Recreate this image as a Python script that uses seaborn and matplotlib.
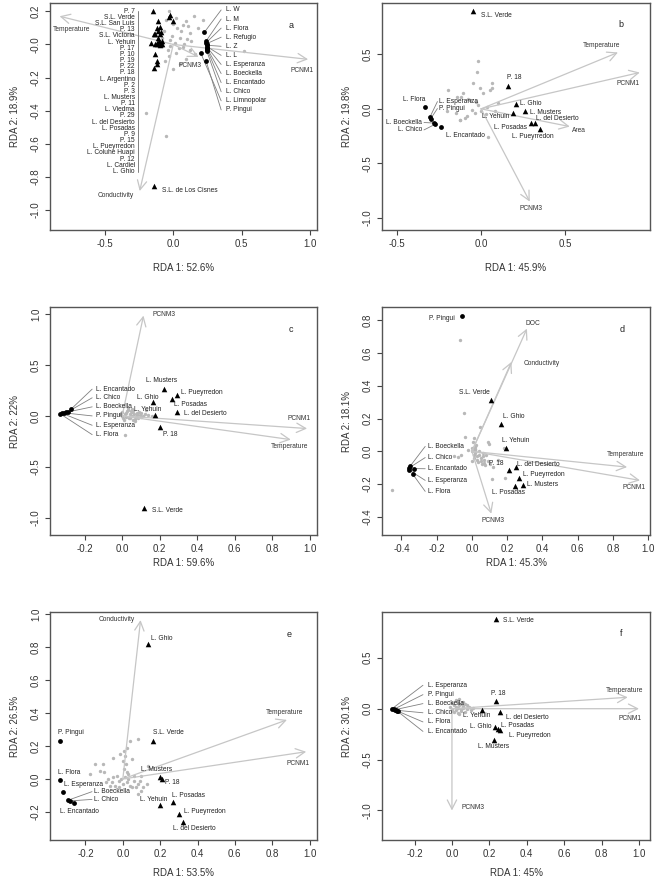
import numpy as np
import pandas as pd
import matplotlib
matplotlib.use("Agg")
import matplotlib.pyplot as plt
import seaborn as sns
from matplotlib.ticker import FormatStrFormatter

sns.set_theme(style="ticks")
plt.rcParams['font.family'] = ['Liberation Sans', 'DejaVu Sans']
plt.rcParams['axes.unicode_minus'] = False

# ---------------- panel a ----------------
a_sp = [(0.0, 0.126), (0.09, 0.14), (0.125, 0.066), (0.05, 0.04), (-0.02, 0.024), (0.015, 0.006),
        (0.07, -0.018), (0.125, -0.036), (-0.04, -0.036), (-0.07, 0.084), (0.15, 0.17), (-0.05, 0.15),
        (0.03, 0.1), (0.1, 0.03), (-0.03, -0.07), (0.06, 0.08), (0.02, -0.05), (-0.01, 0.05),
        (0.08, 0.0), (0.04, -0.02), (0.11, 0.11), (-0.06, -0.1), (0.0, -0.15), (0.05, -0.12),
        (0.13, 0.02), (0.18, 0.1), (-0.08, 0.04), (0.02, 0.16), (-0.02, -0.01), (0.07, 0.12),
        (-0.2, -0.415), (-0.05, -0.555), (0.22, 0.15), (0.52, -0.04), (0.16, -0.06), (-0.03, 0.2),
        (0.09, -0.09)]
a_tri = [(-0.15, 0.2), (-0.02, 0.175), (-0.03, 0.165), (-0.005, 0.14), (-0.11, 0.14), (-0.1, 0.105),
         (-0.12, 0.1), (-0.09, 0.075), (-0.11, 0.08), (-0.14, 0.06), (-0.11, 0.04), (-0.08, 0.02),
         (-0.16, 0.01), (-0.1, 0.0), (-0.09, 0.005), (-0.12, 0.01), (-0.085, 0.0), (-0.13, -0.06),
         (-0.12, -0.1), (-0.12, -0.12), (-0.14, -0.145), (-0.1, 0.06), (-0.105, 0.02), (-0.095, -0.005),
         (-0.115, 0.0), (-0.135, 0.065), (-0.13, 0.005)]
a_tri_names = ["P. 7", "S.L. Verde", "S.L. San Luis", "P. 13", "S.L. Victoria", "L. Yehuin", "P. 17",
               "P. 10", "P. 19", "P. 22", "P. 18", "L. Argentino", "P. 2", "P. 3", "L. Musters", "P. 11",
               "L. Viedma", "P. 29", "L. del Desierto", "L. Posadas", "P. 9", "P. 15", "L. Pueyrredon",
               "L. Coluhe Huapi", "P. 12", "L. Cardiel", "L. Ghio"]
a_cisnes = [(-0.14, -0.855)]
a_circ = [(0.228, 0.074), (0.24, 0.02), (0.24, 0.01), (0.245, 0.005), (0.245, -0.005), (0.25, -0.015),
          (0.25, -0.02), (0.248, -0.025), (0.25, -0.035), (0.245, -0.04), (0.2, -0.05), (0.24, -0.1)]
a_circ_names = ["L. W", "L. M", "L. Flora", "L. Refugio", "L. Z", "L. L", "L. Esperanza", "L. Boeckella",
                "L. Encantado", "L. Chico", "L. Limnopolar", "P. Pingui"]
a_env = ["Temperature", "PCNM1", "PCNM3", "Conductivity"]
a_env_x = [-0.83, 0.985, 0.185, -0.245]
a_env_y = [0.17, -0.09, -0.075, -0.885]

# ---------------- panel b ----------------
b_sp = [(-0.016, 0.44), (-0.026, 0.34), (-0.046, 0.235), (0.064, 0.235), (-0.006, 0.19), (0.014, 0.144),
        (-0.105, 0.144), (-0.145, 0.113), (-0.065, 0.083), (-0.016, 0.037), (0.034, 0.02), (-0.055, -0.009),
        (-0.036, -0.04), (-0.085, -0.07), (-0.125, -0.1), (-0.196, 0.174), (-0.117, 0.113), (0.055, 0.174),
        (0.065, 0.19), (-0.077, 0.089), (-0.147, -0.04), (-0.127, -0.1), (-0.097, -0.085), (0.042, -0.254),
        (0.1, 0.05), (0.03, -0.05), (-0.2, -0.02), (0.08, -0.02), (-0.03, 0.06), (0.0, -0.02)]
b_tri = [(-0.05, 0.9), (0.163, 0.21), (0.21, 0.046), (0.264, -0.024), (0.19, -0.04),
         (0.323, -0.125), (0.296, -0.13), (0.35, -0.18)]
b_tri_names = ["S.L. Verde", "P. 18", "L. Ghio", "L. Musters", "L. Yehuin", "L. del Desierto",
               "L. Posadas", "L. Pueyrredon"]
b_circ = [(-0.335, 0.015), (-0.305, -0.077), (-0.3, -0.09), (-0.28, -0.13), (-0.272, -0.14), (-0.236, -0.17)]
b_circ_names = ["L. Flora", "L. Esperanza", "P. Pingui", "L. Boeckella", "L. Chico", "L. Encantado"]
b_env = ["Temperature", "PCNM1", "Area", "PCNM3"]
b_env_x = [0.815, 0.945, 0.528, 0.29]
b_env_y = [0.517, 0.333, -0.162, -0.85]

# ---------------- panel c ----------------
c_sp = [(0.0, 0.0), (0.02, 0.03), (0.04, -0.02), (0.06, 0.05), (0.08, 0.01), (0.1, -0.01), (0.12, 0.02),
        (0.01, -0.04), (0.03, 0.06), (0.05, 0.0), (0.07, -0.03), (0.09, 0.04), (0.11, 0.0), (0.0, 0.04),
        (0.02, -0.01), (0.04, 0.02), (0.06, -0.04), (0.08, 0.03), (0.1, 0.03), (0.015, 0.015),
        (0.035, -0.025), (0.055, 0.035), (0.075, -0.015), (0.095, 0.01), (0.025, 0.045), (0.045, 0.05),
        (0.065, 0.02), (0.085, -0.02), (-0.01, 0.02), (0.005, -0.02), (0.14, 0.01), (0.16, -0.005),
        (0.13, 0.06), (0.016, -0.183), (0.05, 0.07), (0.07, -0.05), (0.03, 0.08)]
c_tri = [(0.226, 0.263), (0.292, 0.204), (0.267, 0.171), (0.164, 0.138), (0.292, 0.04),
         (0.176, 0.007), (0.203, -0.108), (0.118, -0.9)]
c_tri_names = ["L. Musters", "L. Pueyrredon", "L. Posadas", "L. Ghio", "L. del Desierto",
               "L. Yehuin", "P. 18", "S.L. Verde"]
c_circ = [(-0.273, 0.066), (-0.29, 0.04), (-0.3, 0.035), (-0.31, 0.03), (-0.32, 0.025), (-0.33, 0.02)]
c_circ_names = ["L. Encantado", "L. Chico", "L. Boeckella", "P. Pingui", "L. Esperanza", "L. Flora"]
c_env = ["PCNM3", "PCNM1", "Temperature"]
c_env_x = [0.114, 0.987, 0.9]
c_env_y = [0.985, -0.124, -0.233]

# ---------------- panel d ----------------
d_sp = [(-0.07, 0.677), (-0.045, 0.233), (-0.453, -0.234), (0.097, 0.047), (0.186, -0.163), (0.044, 0.148),
        (0.008, 0.057), (0.017, 0.026), (-0.04, 0.09), (0.093, 0.057), (0.1, -0.075), (0.12, -0.096),
        (0.112, -0.167), (-0.1, -0.03), (-0.08, -0.035), (-0.06, -0.025), (0.0, 0.0), (0.02, -0.01),
        (0.04, -0.02), (0.06, -0.03), (0.01, -0.04), (0.03, -0.05), (0.05, -0.06), (0.07, -0.05),
        (0.0, 0.02), (0.02, 0.01), (0.04, 0.0), (0.06, -0.01), (0.08, -0.02), (0.01, -0.02),
        (0.03, -0.03), (0.05, -0.04), (0.07, -0.07), (0.09, -0.06), (0.015, 0.015), (0.035, -0.065),
        (0.055, -0.08), (0.072, -0.085), (0.025, 0.04), (-0.02, 0.01), (0.15, -0.05), (0.18, 0.02),
        (0.0, -0.06), (0.01, 0.08)]
d_tri = [(0.11, 0.31), (0.167, 0.169), (0.195, 0.022), (0.21, -0.112), (0.248, -0.096),
         (0.267, -0.16), (0.29, -0.203), (0.243, -0.21)]
d_tri_names = ["S.L. Verde", "L. Ghio", "L. Yehuin", "P. 18", "L. del Desierto", "L. Pueyrredon",
               "L. Musters", "L. Posadas"]
d_circ = [(-0.057, 0.825), (-0.35, -0.09), (-0.355, -0.1), (-0.33, -0.105), (-0.355, -0.115), (-0.335, -0.14)]
d_circ_names = ["P. Pingui", "L. Boeckella", "L. Chico", "L. Encantado", "L. Esperanza", "L. Flora"]
d_env = ["DOC", "Conductivity", "Temperature", "PCNM1", "PCNM3"]
d_env_x = [0.312, 0.224, 0.88, 0.953, 0.11]
d_env_y = [0.748, 0.545, -0.096, -0.177, -0.38]

# ---------------- panel e ----------------
e_sp = [(0.037, 0.23), (0.082, 0.242), (-0.016, 0.15), (-0.052, 0.13), (-0.105, 0.09), (-0.15, 0.09),
        (-0.176, 0.029), (-0.123, 0.049), (0.1, -0.073), (0.082, -0.093), (0.127, -0.033), (0.135, 0.079),
        (0.02, 0.19), (0.005, 0.17), (0.01, 0.14), (0.0, 0.11), (0.015, 0.09), (0.005, 0.06), (0.02, 0.04),
        (-0.08, 0.0), (-0.06, -0.02), (-0.04, -0.04), (-0.02, -0.01), (0.0, -0.03), (0.02, -0.02),
        (0.04, -0.04), (0.06, -0.01), (0.08, -0.03), (-0.07, -0.04), (-0.05, 0.01), (-0.03, 0.02),
        (-0.01, 0.0), (0.01, 0.01), (0.03, 0.0), (0.05, -0.05), (0.07, -0.05), (0.09, -0.01),
        (-0.09, -0.02), (0.03, 0.03), (0.06, 0.02), (-0.02, -0.05), (0.1, 0.02), (0.05, 0.12),
        (-0.1, 0.04), (0.11, -0.05)]
e_tri = [(0.137, 0.82), (0.162, 0.23), (0.198, 0.012), (0.212, 0.002), (0.269, -0.14),
         (0.198, -0.16), (0.301, -0.21), (0.322, -0.262)]
e_tri_names = ["L. Ghio", "S.L. Verde", "L. Musters", "P. 18", "L. Posadas", "L. Yehuin",
               "L. Pueyrredon", "L. del Desierto"]
e_circ = [(-0.337, 0.23), (-0.337, -0.008), (-0.319, -0.08), (-0.296, -0.13), (-0.285, -0.133), (-0.262, -0.148)]
e_circ_names = ["P. Pingui", "L. Flora", "L. Esperanza", "L. Boeckella", "L. Chico", "L. Encantado"]
e_env = ["Conductivity", "Temperature", "PCNM1"]
e_env_x = [0.095, 0.879, 0.982]
e_env_y = [0.963, 0.358, 0.165]

# ---------------- panel f ----------------
f_sp = [(0.0, 0.0), (0.02, 0.02), (0.04, 0.04), (0.06, 0.03), (0.08, 0.0), (0.01, -0.03), (0.03, -0.04),
        (0.05, -0.02), (0.07, 0.05), (0.0, 0.06), (0.02, 0.09), (0.04, 0.1), (0.06, 0.07), (0.03, 0.01),
        (0.05, 0.0), (0.01, 0.04), (0.09, 0.02), (0.11, 0.01), (-0.01, 0.02), (0.07, -0.03), (0.04, -0.05),
        (0.02, -0.01), (0.06, 0.01), (0.08, 0.04), (0.03, 0.06), (0.05, 0.05), (0.1, -0.01), (0.0, -0.02)]
f_tri = [(0.234, 0.884), (0.234, 0.079), (0.162, -0.01), (0.255, -0.033), (0.228, -0.18),
         (0.246, -0.197), (0.255, -0.213), (0.225, -0.312)]
f_tri_names = ["S.L. Verde", "P. 18", "L. Yehuin", "L. del Desierto", "L. Ghio", "L. Posadas",
               "L. Pueyrredon", "L. Musters"]
f_circ = [(-0.32, 0.0), (-0.31, -0.005), (-0.305, -0.01), (-0.3, -0.015), (-0.295, -0.02), (-0.29, -0.027)]
f_circ_names = ["L. Esperanza", "P. Pingui", "L. Boeckella", "L. Chico", "L. Flora", "L. Encantado"]
f_env = ["Temperature", "PCNM1", "PCNM3"]
f_env_x = [0.94, 1.0, 0.0]
f_env_y = [0.112, 0.0, -1.0]

# ---------------- layout (label positions: x, y, ha, leader start x) ----------------
a_tri_lpos = [(-0.28, y, 'right', None) for y in np.linspace(0.2, -0.766, 27)]
a_circ_lpos = [(0.385, y, 'left', 0.35) for y in np.linspace(0.208, -0.395, 12)]
a_env_lpos = [(-0.74, 0.088, 'center'), (0.94, -0.156, 'center'), (0.125, -0.13, 'center'),
              (-0.417, -0.914, 'center')]

b_tri_lpos = [(0.0, 0.86, 'left', None), (0.2, 0.285, 'center', None), (0.23, 0.046, 'left', None),
              (0.29, -0.034, 'left', None), (0.17, -0.07, 'right', None), (0.33, -0.092, 'left', None),
              (0.276, -0.17, 'right', None), (0.31, -0.254, 'center', None)]
b_circ_lpos = [(-0.33, 0.089, 'right', None), (-0.25, 0.067, 'left', -0.26), (-0.25, 0.003, 'left', -0.26),
               (-0.35, -0.125, 'right', -0.34), (-0.35, -0.193, 'right', -0.34), (-0.21, -0.248, 'left', None)]
b_env_lpos = [(0.716, 0.58, 'center'), (0.875, 0.235, 'center'), (0.58, -0.2, 'center'), (0.3, -0.91, 'center')]

c_tri_lpos = [(0.21, 0.345, 'center', None), (0.314, 0.233, 'left', None), (0.275, 0.115, 'left', None),
              (0.139, 0.177, 'center', None), (0.328, 0.023, 'left', None), (0.134, 0.063, 'center', None),
              (0.257, -0.183, 'center', None), (0.162, -0.932, 'left', None)]
c_circ_lpos = [(-0.141, y, 'left', -0.16) for y in [0.263, 0.178, 0.089, 0.0, -0.092, -0.184]]
c_env_lpos = [(0.223, 0.992, 'center'), (0.943, -0.03, 'center'), (0.895, -0.305, 'center')]

d_tri_lpos = [(0.015, 0.358, 'center', None), (0.24, 0.21, 'center', None), (0.246, 0.067, 'center', None),
              (0.138, -0.075, 'center', None), (0.256, -0.081, 'left', None), (0.29, -0.14, 'left', None),
              (0.314, -0.203, 'left', None), (0.205, -0.248, 'center', None)]
d_circ_lpos = [(-0.1, 0.81, 'right', None)] + [(-0.25, y, 'left', -0.265)
                                               for y in [0.03, -0.038, -0.106, -0.177, -0.244]]
d_env_lpos = [(0.347, 0.78, 'center'), (0.394, 0.535, 'center'), (0.873, -0.02, 'center'),
              (0.92, -0.22, 'center'), (0.12, -0.42, 'center')]

e_tri_lpos = [(0.153, 0.85, 'left', None), (0.242, 0.28, 'center', None), (0.18, 0.06, 'center', None),
              (0.228, -0.023, 'left', None), (0.266, -0.1, 'left', None), (0.166, -0.124, 'center', None),
              (0.328, -0.197, 'left', None), (0.381, -0.3, 'center', None)]
e_circ_lpos = [(-0.346, 0.279, 'left', None), (-0.346, 0.038, 'left', None), (-0.315, -0.032, 'left', None),
               (-0.155, -0.077, 'left', -0.165), (-0.155, -0.124, 'left', -0.165), (-0.337, -0.2, 'left', None)]
e_env_lpos = [(-0.03, 0.968, 'center'), (0.866, 0.4, 'center'), (0.937, 0.093, 'center')]

f_tri_lpos = [(0.273, 0.867, 'left', None), (0.25, 0.148, 'center', None), (0.13, -0.066, 'center', None),
              (0.29, -0.082, 'left', None), (0.21, -0.174, 'right', None), (0.26, -0.164, 'left', None),
              (0.305, -0.263, 'left', None), (0.225, -0.37, 'center', None)]
f_circ_lpos = [(-0.128, y, 'left', -0.155) for y in [0.23, 0.138, 0.05, -0.04, -0.13, -0.223]]
f_env_lpos = [(0.92, 0.177, 'center'), (0.95, -0.1, 'center'), (0.05, -0.97, 'left')]

GREY_PT = '#b8b8b8'
ARROW = '#c6c6c6'
LEAD = '#808080'
TXT = '#222222'
SITE_FS = 4.8
W, H = 658, 880

fig = plt.figure(figsize=(6.58, 8.8), dpi=100)


def make_ax(left, top, right, bottom):
    return fig.add_axes([left / W, 1 - bottom / H, (right - left) / W, (bottom - top) / H])


def frame(ax, xlim, ylim, xticks, yticks, xlab, ylab, letter, letter_xy, xlab_off):
    ax.set_xlim(xlim)
    ax.set_ylim(ylim)
    ax.set_xticks(xticks)
    ax.set_yticks(yticks)
    ax.xaxis.set_major_formatter(FormatStrFormatter('%.1f'))
    ax.yaxis.set_major_formatter(FormatStrFormatter('%.1f'))
    ax.tick_params(length=3.5, width=0.8, colors='#444444', labelsize=7, labelcolor='#333333', pad=3)
    ax.tick_params(axis='y', labelrotation=90)
    for lbl in ax.get_yticklabels():
        lbl.set_va('center')
    for s in ax.spines.values():
        s.set_color('#555555')
        s.set_linewidth(1.0)
    ax.set_xlabel('')
    ax.set_ylabel('')
    bb = ax.get_position()
    hpx = bb.height * H
    wpx = bb.width * W
    ax.text(0.5, -xlab_off / hpx, xlab, transform=ax.transAxes, ha='center', va='center',
            fontsize=7, color='#333333')
    ax.text(-35 / wpx, 0.5, ylab, transform=ax.transAxes, ha='center', va='center',
            rotation=90, fontsize=7, color='#333333')
    ax.text(letter_xy[0], letter_xy[1], letter, ha='center', va='center', fontsize=6.5, color=TXT)


def species(ax, pts):
    df = pd.DataFrame(pts, columns=['x', 'y'])
    sns.scatterplot(data=df, x='x', y='y', ax=ax, color=GREY_PT, s=6, linewidth=0, zorder=2)


def arrows(ax, names, xs, ys, lpos):
    for name, x, y, (lx, ly, ha) in zip(names, xs, ys, lpos):
        ax.annotate('', xy=(x, y), xytext=(0, 0),
                    arrowprops=dict(arrowstyle='->,head_length=0.55,head_width=0.28', color=ARROW,
                                    lw=0.9, shrinkA=0, shrinkB=0), zorder=3)
        ax.text(lx, ly, name, ha=ha, va='center', fontsize=SITE_FS, color='#333333', zorder=5)


def sites(ax, pts, names, lpos, marker, size):
    df = pd.DataFrame(pts, columns=['x', 'y'])
    sns.scatterplot(data=df, x='x', y='y', ax=ax, color='black', marker=marker, s=size,
                    linewidth=0, zorder=4)
    for (px, py), name, (lx, ly, ha, lead) in zip(pts, names, lpos):
        ax.text(lx, ly, name, ha=ha, va='center', fontsize=SITE_FS, color=TXT, zorder=5)
        if lead is not None:
            ax.plot([lead, px], [ly, py], color=LEAD, lw=0.6, zorder=3)


# panel a
ax = make_ax(50, 3, 317, 230)
species(ax, a_sp)
arrows(ax, a_env, a_env_x, a_env_y, a_env_lpos)
sites(ax, a_tri, a_tri_names, a_tri_lpos, '^', 16)
sites(ax, a_cisnes, ["S.L. de Los Cisnes"], [(-0.083, -0.884, 'left', None)], '^', 16)
ax.plot([-0.255, -0.255], [0.2, -0.77], color=LEAD, lw=0.7, zorder=3)
sites(ax, a_circ, a_circ_names, a_circ_lpos, 'o', 12)
frame(ax, (-0.9, 1.05), (-1.12, 0.25), [-0.5, 0.0, 0.5, 1.0], np.arange(-1.0, 0.21, 0.2),
      "RDA 1: 52.6%", "RDA 2: 18.9%", "a", (0.86, 0.115), 38)

# panel b
ax = make_ax(382, 3, 650, 230)
species(ax, b_sp)
arrows(ax, b_env, b_env_x, b_env_y, b_env_lpos)
sites(ax, b_tri, b_tri_names, b_tri_lpos, '^', 16)
sites(ax, b_circ, b_circ_names, b_circ_lpos, 'o', 12)
frame(ax, (-0.59, 1.006), (-1.11, 0.97), [-0.5, 0.0, 0.5], [-1.0, -0.5, 0.0, 0.5],
      "RDA 1: 45.9%", "RDA 2: 19.8%", "b", (0.835, 0.77), 38)

# panel c
ax = make_ax(50, 307, 317, 535)
species(ax, c_sp)
arrows(ax, c_env, c_env_x, c_env_y, c_env_lpos)
sites(ax, c_tri, c_tri_names, c_tri_lpos, '^', 16)
sites(ax, c_circ, c_circ_names, c_circ_lpos, 'o', 12)
frame(ax, (-0.385, 1.04), (-1.17, 1.07), np.arange(-0.2, 1.01, 0.2), [-1.0, -0.5, 0.0, 0.5, 1.0],
      "RDA 1: 59.6%", "RDA 2: 22%", "c", (0.9, 0.85), 28)

# panel d
ax = make_ax(382, 307, 650, 535)
species(ax, d_sp)
arrows(ax, d_env, d_env_x, d_env_y, d_env_lpos)
sites(ax, d_tri, d_tri_names, d_tri_lpos, '^', 16)
sites(ax, d_circ, d_circ_names, d_circ_lpos, 'o', 12)
frame(ax, (-0.51, 1.01), (-0.51, 0.88), np.arange(-0.4, 1.01, 0.2), np.arange(-0.4, 0.81, 0.2),
      "RDA 1: 45.3%", "RDA 2: 18.1%", "d", (0.85, 0.74), 28)

# panel e
ax = make_ax(50, 612, 317, 840)
species(ax, e_sp)
arrows(ax, e_env, e_env_x, e_env_y, e_env_lpos)
sites(ax, e_tri, e_tri_names, e_tri_lpos, '^', 16)
sites(ax, e_circ, e_circ_names, e_circ_lpos, 'o', 12)
frame(ax, (-0.39, 1.04), (-0.37, 1.012), np.arange(-0.2, 1.01, 0.2), np.arange(-0.2, 1.01, 0.2),
      "RDA 1: 53.5%", "RDA 2: 26.5%", "e", (0.893, 0.876), 33)

# panel f
ax = make_ax(382, 612, 650, 840)
species(ax, f_sp)
arrows(ax, f_env, f_env_x, f_env_y, f_env_lpos)
sites(ax, f_tri, f_tri_names, f_tri_lpos, '^', 16)
sites(ax, f_circ, f_circ_names, f_circ_lpos, 'o', 12)
frame(ax, (-0.374, 1.059), (-1.29, 0.95), np.arange(-0.2, 1.01, 0.2), [-1.0, -0.5, 0.0, 0.5],
      "RDA 1: 45%", "RDA 2: 30.1%", "f", (0.905, 0.735), 33)

fig.savefig("out.png", dpi=100, facecolor='white')
